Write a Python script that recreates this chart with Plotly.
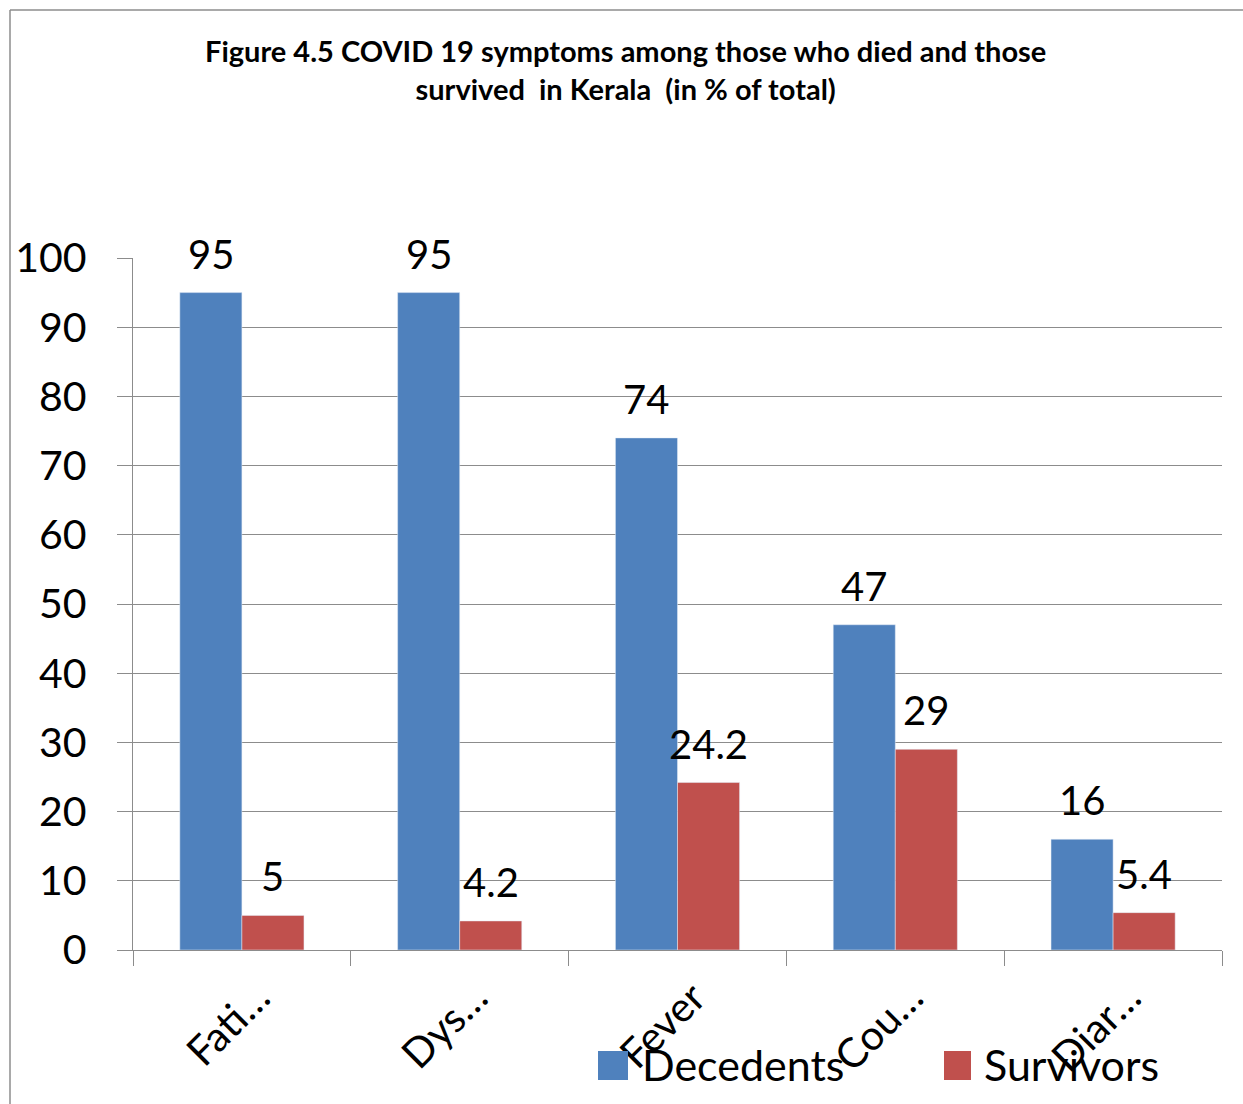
import plotly.graph_objects as go

# Symptom categories (labels as printed on the axis) and percentages
categories = ["Fati…", "Dys…", "Fever", "Cou…", "Diar…"]
decedents = [95, 95, 74, 47, 16]
survivors = [5, 4.2, 24.2, 29, 5.4]
y_ticks = [0, 10, 20, 30, 40, 50, 60, 70, 80, 90, 100]

BLUE = "#4F81BD"
RED = "#C0504D"
GRID = "#8C8C8C"
FONT = "Lato, 'Open Sans', sans-serif"

W, H = 1243, 1104
L, R, T, B = 133, 21, 258, 154
PW, PH = W - L - R, H - T - B


def px_x(px):
    return (px - L) / PW


def px_y(py):
    return (H - B - py) / PH


idx = list(range(len(categories)))
bar_w = 0.285

fig = go.Figure()
fig.add_trace(go.Bar(x=idx, y=decedents, name="Decedents", marker_color=BLUE,
                     width=bar_w, offset=-bar_w, showlegend=False))
fig.add_trace(go.Bar(x=idx, y=survivors, name="Survivors", marker_color=RED,
                     width=bar_w, offset=0, showlegend=False))

annotations = []
# value labels above each bar
for i, (d, s) in enumerate(zip(decedents, survivors)):
    for val, off in ((d, -bar_w / 2), (s, bar_w / 2)):
        annotations.append(dict(x=i + off, y=val, xref="x", yref="y",
                                text=f"{val:g}", showarrow=False,
                                yanchor="middle", yshift=39,
                                font=dict(size=40, color="black", family=FONT)))

# title
annotations.append(dict(
    x=px_x(625), y=px_y(69), xref="paper", yref="paper",
    text="<b>Figure 4.5 COVID 19 symptoms among those who died and those<br>survived  in Kerala  (in % of total)</b>",
    showarrow=False, xanchor="center", yanchor="middle", align="center",
    font=dict(size=29, color="black", family=FONT)))

# legend drawn as swatches with text
shapes = []
for (x0, x1, name, col, tx) in ((598, 628, "Decedents", BLUE, 640),
                                (944, 971, "Survivors", RED, 982)):
    shapes.append(dict(type="rect", xref="paper", yref="paper",
                       x0=px_x(x0), x1=px_x(x1), y0=px_y(1080), y1=px_y(1051),
                       fillcolor=col, line=dict(width=0)))
    annotations.append(dict(x=px_x(tx), y=px_y(1064), xref="paper", yref="paper",
                            text=name, showarrow=False, xanchor="left",
                            yanchor="middle",
                            font=dict(size=43, color="black", family=FONT)))

# outer chart frame (left and top edges visible)
shapes.append(dict(type="line", xref="paper", yref="paper",
                   x0=px_x(10), x1=px_x(10), y0=px_y(1110), y1=px_y(10),
                   line=dict(color="#8C8C8C", width=1.5)))
shapes.append(dict(type="line", xref="paper", yref="paper",
                   x0=px_x(10), x1=px_x(1250), y0=px_y(10), y1=px_y(10),
                   line=dict(color="#8C8C8C", width=1.5)))

fig.update_layout(
    width=W, height=H,
    margin=dict(l=L, r=R, t=T, b=B),
    paper_bgcolor="white", plot_bgcolor="white",
    barmode="overlay",
    showlegend=False,
    annotations=annotations,
    shapes=shapes,
    font=dict(family=FONT, color="black"),
)

fig.update_yaxes(
    range=[0, 100], tickvals=y_ticks,
    showgrid=True, gridcolor=GRID, gridwidth=1.3,
    showline=True, linecolor=GRID, linewidth=1.3,
    ticks="outside", ticklen=15, tickcolor=GRID, tickwidth=1.3,
    ticklabelstandoff=22,
    tickfont=dict(size=41, color="black", family=FONT),
    zeroline=False,
)

fig.update_xaxes(
    range=[-0.5, len(categories) - 0.5],
    tickvals=idx, ticktext=categories, tickangle=-45,
    ticks="", showgrid=False, zeroline=False,
    showline=True, linecolor=GRID, linewidth=1.3,
    ticklabelshift=16, ticklabelstandoff=6,
    tickfont=dict(size=41, color="black", family=FONT),
    minor=dict(tickvals=[i - 0.5 for i in range(len(categories) + 1)],
               ticks="outside", ticklen=15, tickcolor=GRID, tickwidth=1.3,
               showgrid=False),
)

fig.write_html("out.html")
